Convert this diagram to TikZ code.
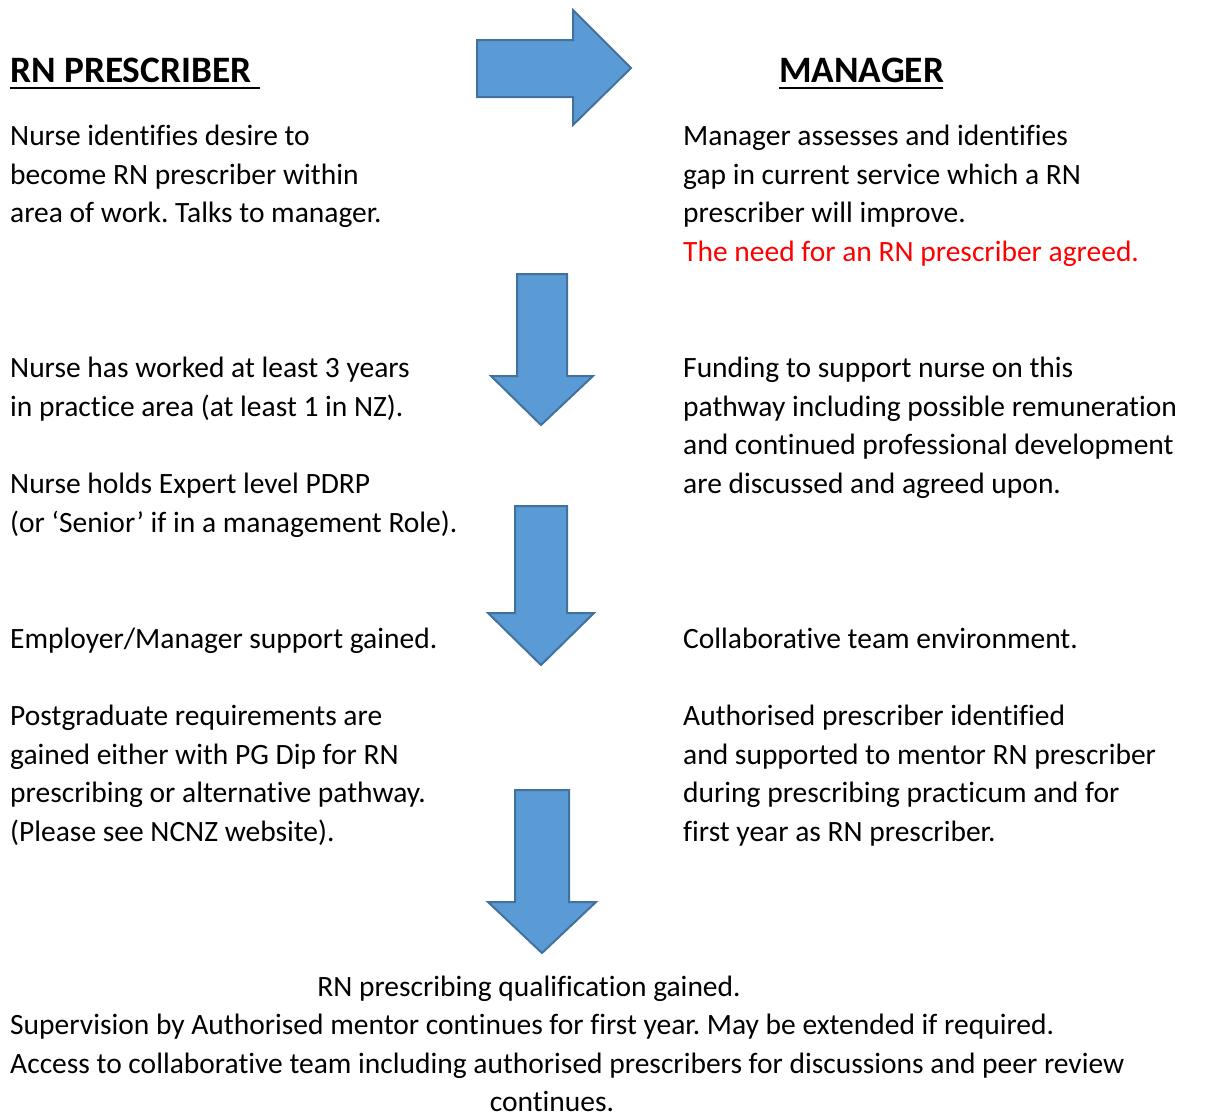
\documentclass[tikz,border=0pt]{standalone}
\usepackage{fontspec}
\setmainfont[Ligatures=NoCommon]{Carlito}
\definecolor{arrfill}{HTML}{5B9BD5}
\definecolor{arrline}{HTML}{41719C}
\definecolor{redtxt}{HTML}{FF0000}
\frenchspacing
\begin{document}
\begin{tikzpicture}[x=1pt,y=-1pt,
  body/.style={anchor=base west,inner sep=0pt,font=\fontsize{29.5}{38.5}\selectfont},
  bodyc/.style={anchor=base,inner sep=0pt,font=\fontsize{29.5}{38.5}\selectfont},
  head/.style={anchor=base west,inner sep=0pt,font=\fontsize{37.3}{44}\selectfont\bfseries},
  uline/.style={line width=2.4pt},
  bigarrow/.style={fill=arrfill,draw=arrline,line width=2pt,line join=miter}]
\useasboundingbox (0,0) rectangle (1220,1112);
% arrows
\draw[bigarrow] (477,40) -- (573,40) -- (573,10) -- (631,68) -- (573,125) -- (573,97) -- (477,97) -- cycle;
\draw[bigarrow] (517,274) -- (567,274) -- (567,376) -- (593,376) -- (541,425) -- (491,376) -- (517,376) -- cycle;
\draw[bigarrow] (515,506) -- (567,506) -- (567,613) -- (594,613) -- (541,665) -- (488,613) -- (515,613) -- cycle;
\draw[bigarrow] (515,790) -- (569,790) -- (569,902) -- (596,902) -- (542,953) -- (488,902) -- (515,902) -- cycle;
% headers
\node[head] (hl) at (10,82) {RN PRESCRIBER};
\draw[uline] (10,88) -- (260,88);
\node[head] (hr) at (779,82) {MANAGER};
\draw[uline] (779,88) -- (943,88);
% left column
\node[body] (l1a) at (10,145) {Nurse identifies desire to};
\node[body] (l1b) at (10,184) {become RN prescriber within};
\node[body] (l1c) at (10,222) {area of work. Talks to manager.};
\node[body] (l2a) at (10,377) {Nurse has worked at least 3 years};
\node[body] (l2b) at (10,416) {in practice area (at least 1 in NZ).};
\node[body] (l3a) at (10,493) {Nurse holds Expert level PDRP};
\node[body] (l3b) at (10,532) {(or ‘Senior’ if in a management Role).};
\node[body] (l4a) at (10,648) {Employer/Manager support gained.};
\node[body] (l5a) at (10,725) {Postgraduate requirements are};
\node[body] (l5b) at (10,764) {gained either with PG Dip for RN};
\node[body] (l5c) at (10,802) {prescribing or alternative pathway.};
\node[body] (l5d) at (10,841) {(Please see NCNZ website).};
% right column
\node[body] (r1a) at (683,145) {Manager assesses and identifies};
\node[body] (r1b) at (683,184) {gap in current service which a RN};
\node[body] (r1c) at (683,222) {prescriber will improve.};
\node[body,text=redtxt] (r1d) at (683,261) {The need for an RN prescriber agreed.};
\node[body] (r2a) at (683,377) {Funding to support nurse on this};
\node[body] (r2b) at (683,416) {pathway including possible remuneration};
\node[body] (r2c) at (683,454) {and continued professional development};
\node[body] (r2d) at (683,493) {are discussed and agreed upon.};
\node[body] (r3a) at (683,648) {Collaborative team environment.};
\node[body] (r4a) at (683,725) {Authorised prescriber identified};
\node[body] (r4b) at (683,764) {and supported to mentor RN prescriber};
\node[body] (r4c) at (683,802) {during prescribing practicum and for};
\node[body] (r4d) at (683,841) {first year as RN prescriber.};
% bottom
\node[bodyc] (b1) at (529,996) {RN prescribing qualification gained.};
\node[body] (b2) at (10,1034) {Supervision by Authorised mentor continues for first year. May be extended if required.};
\node[body] (b3) at (10,1073) {Access to collaborative team including authorised prescribers for discussions and peer review};
\node[bodyc] (b4) at (552,1111) {continues.};
\end{tikzpicture}
\end{document}
